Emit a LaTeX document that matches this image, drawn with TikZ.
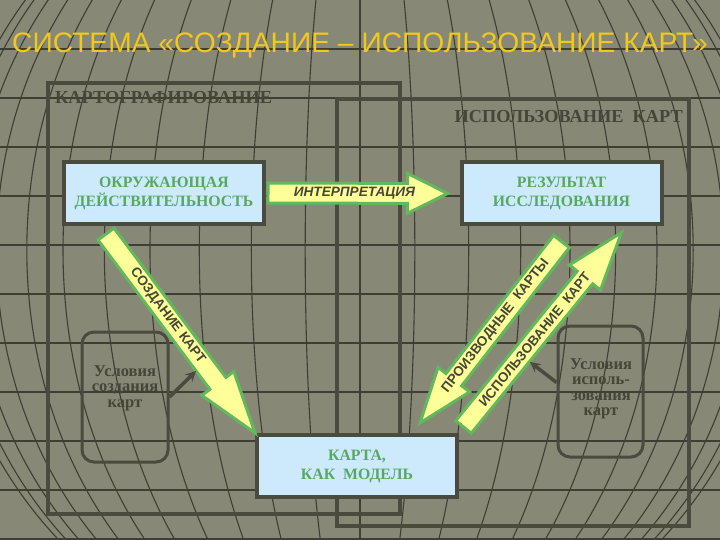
\documentclass[tikz,border=0pt]{standalone}
\usepackage{fontspec}
\setmainfont{Liberation Serif}
\newfontfamily\arialf{Liberation Sans}
\usepackage{tikz}
\usetikzlibrary{positioning,calc,arrows}

\definecolor{bgolive}{RGB}{135,136,118}
\definecolor{gridgray}{RGB}{62,62,52}
\definecolor{framegray}{RGB}{74,74,62}
\definecolor{boxblue}{RGB}{204,234,252}
\definecolor{textgreen}{RGB}{88,168,98}
\definecolor{arrowyellow}{RGB}{255,255,153}
\definecolor{arrowgreen}{RGB}{98,184,92}
\definecolor{titleyellow}{RGB}{240,200,30}
\definecolor{darktext}{RGB}{70,70,56}

\tikzset{
  gridline/.style={draw=gridgray, line width=1.1pt},
  framebox/.style={draw=framegray, line width=4pt},
  bluebox/.style={draw=framegray, line width=4pt, fill=boxblue, minimum width=200pt, minimum height=62pt,
    align=center, text=textgreen, font=\fontsize{15.8}{19}\selectfont\bfseries},
  condbox/.style={draw=framegray, line width=3pt, rounded corners=12pt, minimum width=86pt},
  condtext/.style={align=center, text=darktext, font=\fontsize{16.5}{15.5}\selectfont\bfseries},
  framelabel/.style={text=darktext, font=\fontsize{18.3}{20}\selectfont\bfseries, inner sep=0pt},
  titletext/.style={text=titleyellow, font=\arialf\fontsize{28.2}{30}\selectfont},
  bigarrow/.style={draw=arrowgreen, line width=3pt, fill=arrowyellow, line join=miter},
  arrowtext/.style={text=darktext, font=\arialf\fontsize{13.6}{15}\selectfont\bfseries, inner sep=1pt},
  pointer/.style={draw=framegray, line width=3.5pt, -stealth},
}

% block arrow: tail, tip, head length, text position, text
\newcommand{\blockarrow}[5]{%
  \coordinate (headbase) at ($(#2)!#3!(#1)$);
  \filldraw[bigarrow] ($(#1)!10pt!90:(#2)$) -- ($(headbase)!10pt!90:(#2)$) -- ($(headbase)!20pt!90:(#2)$)
    -- (#2) -- ($(headbase)!20pt!-90:(#2)$) -- ($(headbase)!10pt!-90:(#2)$) -- ($(#1)!10pt!-90:(#2)$) -- cycle;
  \path (#1) -- (headbase) node[arrowtext, sloped, pos=#4] {#5};
}

\begin{document}
\begin{tikzpicture}[x=1pt, y=-1pt]
  \fill[bgolive] (0,0) rectangle (720,540);
  \useasboundingbox (0,0) rectangle (720,540);

  % globe grid
  \begin{scope}
    \clip (0,0) rectangle (720,540);
    \foreach \y in {49,98,...,539}
      \draw[gridline] (0,\y) -- (720,\y);
    \draw[gridline] (360,0) -- (360,540);
    \foreach \k in {1,...,11}
      \draw[gridline] (360,250) ellipse [x radius={420*sin(7.5*\k)}, y radius=420];
  \end{scope}

  \node[titletext] (title) at (360,45) {СИСТЕМА «СОЗДАНИЕ – ИСПОЛЬЗОВАНИЕ КАРТ»};

  \draw[framebox] (48,83) rectangle (400,514);
  \draw[framebox] (337,99) rectangle (689,526);
  \node[framelabel, anchor=west] (cartlabel) at (55,98) {КАРТОГРАФИРОВАНИЕ};
  \node[framelabel, anchor=east] (uselabel) at (683,117) {ИСПОЛЬЗОВАНИЕ\ \ КАРТ};

  \node[bluebox] (env) at (164,193) {ОКРУЖАЮЩАЯ\\ДЕЙСТВИТЕЛЬНОСТЬ};
  \node[bluebox] (res) at (561.5,193.5) {РЕЗУЛЬТАТ\\ИССЛЕДОВАНИЯ};
  \node[bluebox] (map) at (357,466) {КАРТА,\\КАК\ \ МОДЕЛЬ};

  \node[condbox, minimum height=130pt] (lcond) at (125,397) {};
  \node[condtext] (lcondtxt) at (125,388) {Условия\\создания\\карт};
  \node[condbox, minimum height=131pt, minimum width=85pt] (rcond) at (600.5,391.5) {};
  \node[condtext] (rcondtxt) at (601,389) {Условия\\исполь-\\зования\\карт};

  \coordinate (itail) at ($(env.east)+(2,0)$);
  \coordinate (itip) at ($(res.west)+(-12,0)$);
  \coordinate (ctail) at ($(env.south west)+(44,8)$);
  \coordinate (dtail) at ($(res.south west)+(102,15)$);
  \coordinate (dtip) at ($(map.north west)+(165,-10)$);
  \coordinate (utail) at ($(map.north east)+(4.5,-6)$);
  \coordinate (utip) at ($(res.south east)+(-42,6)$);

  \blockarrow{itail}{itip}{40pt}{0.62}{\itshape ИНТЕРПРЕТАЦИЯ}
  \blockarrow{ctail}{map.north west}{62pt}{0.55}{СОЗДАНИЕ КАРТ}
  \blockarrow{dtail}{dtip}{55pt}{0.61}{ПРОИЗВОДНЫЕ\ \ КАРТЫ}
  \blockarrow{utail}{utip}{58pt}{0.585}{ИСПОЛЬЗОВАНИЕ\ \ КАРТ}

  \coordinate (lptr) at (196,371);
  \coordinate (rptr) at (530,362);
  \draw[pointer] (lcond.east) -- (lptr);
  \draw[pointer] ($(rcond.west)+(0,-9)$) -- (rptr);
\end{tikzpicture}
\end{document}
